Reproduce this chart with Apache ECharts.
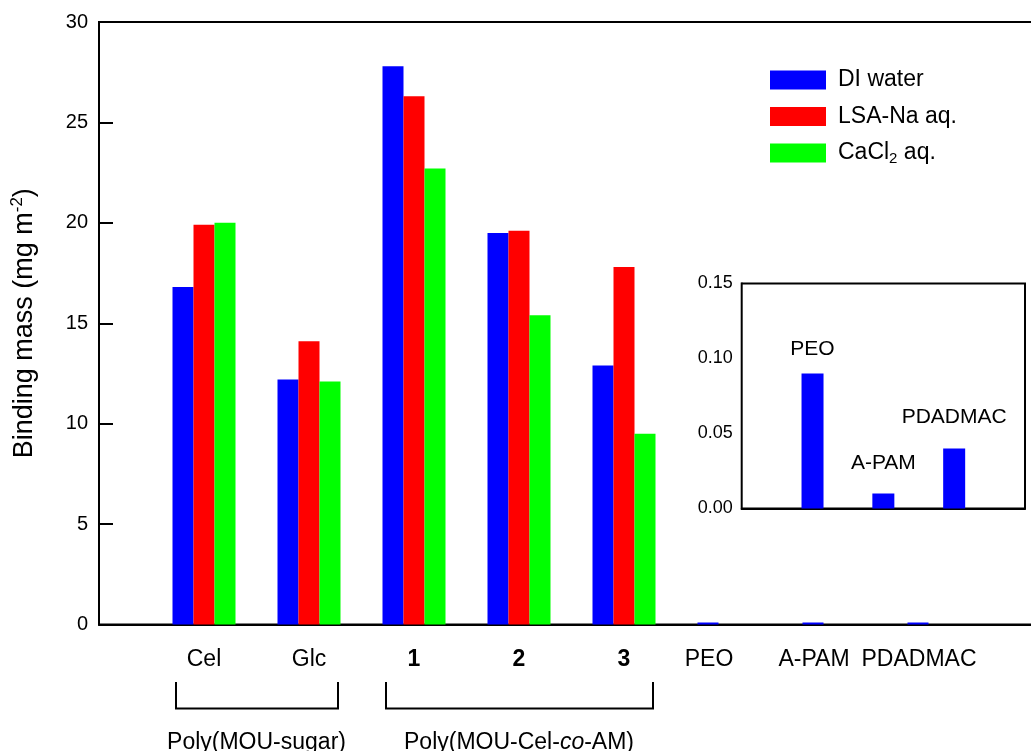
<!DOCTYPE html>
<html>
<head>
<meta charset="utf-8">
<script src="https://cdn.jsdelivr.net/npm/echarts@6/dist/echarts.min.js"></script>
<style>
  html, body { margin: 0; padding: 0; background: #fff; }
  #chart { width: 1031px; height: 751px; }
</style>
</head>
<body>
<div id="chart"></div>
<script>
// ---- data ----
var categories = ['', 'Cel', 'Glc', '1', '2', '3', 'PEO', 'A-PAM', 'PDADMAC', ''];
var diWater   = [null, 16.8, 12.2, 27.8, 19.5, 12.9, 0.09, 0.01, 0.04, null];
var lsaNa     = [null, 19.9, 14.1, 26.3, 19.6, 17.8, null, null, null, null];
var cacl2     = [null, 20.0, 12.1, 22.7, 15.4, 9.5, null, null, null, null];
var seriesNames = ['DI water', 'LSA-Na aq.', 'CaCl2 aq.'];
var insetCategories = ['', 'PEO', 'A-PAM', 'PDADMAC', ''];
var insetValues = [null, 0.09, 0.01, 0.04, null];
var groupNames = ['Poly(MOU-sugar)', 'Poly(MOU-Cel-co-AM)'];
var groupSpans = [['Cel', 'Glc'], ['1', '3']];

var FONT = '"Liberation Sans", Arial, sans-serif';
var chart = echarts.init(document.getElementById('chart'));

var insetGaps = [0, 14, 20, 21, 0];
var insetData = insetValues.map(function (v, i) {
  return { value: v, label: { distance: insetGaps[i] } };
});

var option = {
  animation: false,
  backgroundColor: '#fff',
  textStyle: { fontFamily: FONT, color: '#000' },
  legend: {
    data: seriesNames,
    orient: 'vertical',
    left: 770,
    top: 67,
    padding: 0,
    itemWidth: 56,
    itemHeight: 19,
    itemGap: 10.5,
    icon: 'rect',
    formatter: function (n) {
      if (n === 'CaCl2 aq.') return '{a|CaCl}{sub|2}{a| aq.}';
      return '{a|' + n + '}';
    },
    textStyle: {
      fontFamily: FONT, color: '#000', fontSize: 23, lineHeight: 26,
      padding: [0, 0, 0, 7],
      rich: {
        a: { fontFamily: FONT, fontSize: 23, lineHeight: 26, color: '#000' },
        sub: { fontFamily: FONT, fontSize: 15, lineHeight: 15, verticalAlign: 'bottom', color: '#000' }
      }
    }
  },
  grid: [
    { left: 99, top: 22, width: 945, height: 602.5, show: true, borderColor: '#000', borderWidth: 2,
      containLabel: false, outerBoundsMode: 'none' },
    { left: 741.7, top: 283.5, width: 283.3, height: 225, show: true, backgroundColor: '#fff', borderColor: '#000', borderWidth: 2,
      z: 5, containLabel: false, outerBoundsMode: 'none' }
  ],
  xAxis: [
    {
      type: 'category', gridIndex: 0, data: categories, boundaryGap: false,
      axisLine: { lineStyle: { color: '#000', width: 2 } },
      axisTick: { show: false },
      splitLine: { show: false },
      axisLabel: {
        interval: 0, margin: 24, fontSize: 23, color: '#000', fontFamily: FONT,
        formatter: function (v) {
          if (v === '') return '';
          if (v === '1' || v === '2' || v === '3') return '{b|' + v + '}';
          if (v === 'PEO' || v === 'A-PAM' || v === 'PDADMAC') return '{s|' + v + '}';
          return '{n|' + v + '}';
        },
        rich: {
          n: { fontSize: 23, fontFamily: FONT, color: '#000' },
          b: { fontSize: 23, fontFamily: FONT, fontWeight: 'bold', color: '#000' },
          s: { fontSize: 23, fontFamily: FONT, color: '#000', padding: [0, 40, 0, 0] }
        }
      }
    },
    {
      type: 'category', gridIndex: 1, data: insetCategories, boundaryGap: false,
      axisLine: { lineStyle: { color: '#000', width: 2 } },
      axisTick: { show: false },
      axisLabel: { show: false },
      splitLine: { show: false }
    }
  ],
  yAxis: [
    {
      type: 'value', gridIndex: 0, min: 0, max: 30, interval: 5,
      name: '{a|Binding mass (mg m}{sup|-2}{a|)}',
      nameLocation: 'middle', nameRotate: 90, nameGap: 58,
      nameTextStyle: {
        fontFamily: FONT, color: '#000', fontSize: 27,
        rich: {
          a: { fontFamily: FONT, fontSize: 27, lineHeight: 32, color: '#000' },
          sup: { fontFamily: FONT, fontSize: 17, lineHeight: 17, verticalAlign: 'top', color: '#000' }
        }
      },
      axisLine: { show: true, lineStyle: { color: '#000', width: 2 } },
      axisTick: { show: true, inside: true, length: 14, lineStyle: { color: '#000', width: 2 } },
      splitLine: { show: false },
      axisLabel: { fontSize: 20, margin: 11, color: '#000', fontFamily: FONT }
    },
    {
      type: 'value', gridIndex: 1, min: 0, max: 0.15, interval: 0.05,
      axisLine: { show: true, lineStyle: { color: '#000', width: 2 } },
      axisTick: { show: true, inside: true, length: 7, lineStyle: { color: '#000', width: 2 } },
      splitLine: { show: false },
      axisLabel: {
        fontSize: 18, margin: 9, color: '#000', fontFamily: FONT,
        formatter: function (v) { return v.toFixed(2); }
      }
    }
  ],
  series: [
    { name: seriesNames[0], type: 'bar', xAxisIndex: 0, yAxisIndex: 0, data: diWater,
      barWidth: 21, barGap: '0%', barMinHeight: 2, itemStyle: { color: '#0000ff' } },
    { name: seriesNames[1], type: 'bar', xAxisIndex: 0, yAxisIndex: 0, data: lsaNa,
      barWidth: 21, barGap: '0%', itemStyle: { color: '#ff0000' } },
    { name: seriesNames[2], type: 'bar', xAxisIndex: 0, yAxisIndex: 0, data: cacl2,
      barWidth: 21, barGap: '0%', itemStyle: { color: '#00ff00' } },
    { name: 'inset', type: 'bar', xAxisIndex: 1, yAxisIndex: 1, data: insetData, z: 6,
      barWidth: 22, itemStyle: { color: '#0000ff' },
      label: { show: true, position: 'top', formatter: '{b}', fontSize: 21, color: '#000', fontFamily: FONT } }
  ]
};
chart.setOption(option);

// brackets and group labels, placed from the category axis positions
function px(cat) { return chart.convertToPixel({ xAxisIndex: 0 }, categories.indexOf(cat)); }
var graphics = [];
groupSpans.forEach(function (span, gi) {
  var c1 = px(span[0]), c2 = px(span[1]);
  var x1 = c1 - 28, x2 = c2 + 29;
  graphics.push({
    type: 'polyline',
    shape: { points: [[x1, 682], [x1, 708.5], [x2, 708.5], [x2, 682]] },
    style: { stroke: '#000', lineWidth: 2, fill: null }
  });
  var txt = gi === 1 ? '{n|Poly(MOU-Cel-}{i|co}{n|-AM)}' : '{n|' + groupNames[gi] + '}';
  graphics.push({
    type: 'text',
    x: (c1 + c2) / 2, y: 743,
    style: {
      text: txt, align: 'center', verticalAlign: 'middle',
      fill: '#000',
      rich: {
        n: { fontFamily: FONT, fontSize: 23, fill: '#000' },
        i: { fontFamily: FONT, fontSize: 23, fontStyle: 'italic', fill: '#000' }
      }
    }
  });
});
chart.setOption({ graphic: graphics });
</script>
</body>
</html>
